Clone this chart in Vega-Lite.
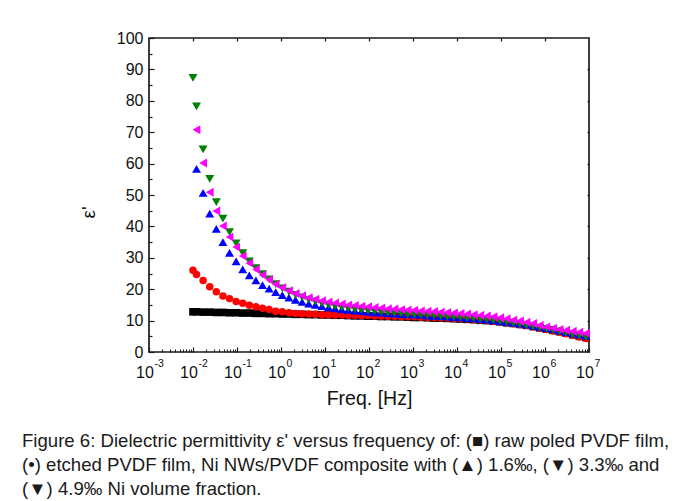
{
  "$schema": "https://vega.github.io/schema/vega-lite/v6.json",
  "width": 440,
  "height": 314,
  "autosize": {"type": "none"},
  "padding": {"left": 149, "top": 38, "right": 94, "bottom": 149},
  "background": "white",
  "title": {
    "text": [
      "Figure 6: Dielectric permittivity ε' versus frequency of: (■) raw poled PVDF film,",
      "(•) etched PVDF film, Ni NWs/PVDF composite with (▲) 1.6‰, (▼) 3.3‰ and",
      "(▼) 4.9‰ Ni volume fraction."
    ],
    "orient": "bottom",
    "anchor": "start",
    "frame": "group",
    "dx": -127,
    "offset": 24,
    "font": "Liberation Sans",
    "fontSize": 18.6,
    "fontWeight": "normal",
    "color": "#1a1a1a",
    "lineHeight": 24
  },
  "data": {
    "values": [
      {"f": 0.01, "raw": 12.8, "etched": 26.0, "c33": 87.3},
      {"f": 0.01202, "raw": 12.8, "etched": 24.7, "c16": 58.3, "c33": 78.2, "c49": 70.8},
      {"f": 0.01698, "raw": 12.7, "etched": 22.8, "c16": 50.7, "c33": 64.5, "c49": 60.2},
      {"f": 0.02399, "raw": 12.7, "etched": 20.8, "c16": 44.1, "c33": 55.1, "c49": 50.9},
      {"f": 0.03388, "raw": 12.6, "etched": 19.2, "c16": 39.2, "c33": 47.7, "c49": 44.9},
      {"f": 0.04786, "raw": 12.6, "etched": 17.8, "c16": 35.0, "c33": 42.5, "c49": 40.1},
      {"f": 0.06761, "raw": 12.5, "etched": 17.0, "c16": 31.6, "c33": 38.2, "c49": 36.6},
      {"f": 0.0955, "raw": 12.5, "etched": 16.1, "c16": 28.9, "c33": 34.6, "c49": 33.4},
      {"f": 0.1349, "raw": 12.4, "etched": 15.5, "c16": 26.3, "c33": 31.5, "c49": 30.6},
      {"f": 0.1905, "raw": 12.4, "etched": 14.9, "c16": 24.4, "c33": 28.9, "c49": 28.3},
      {"f": 0.2692, "raw": 12.3, "etched": 14.4, "c16": 22.8, "c33": 26.7, "c49": 26.3},
      {"f": 0.3802, "raw": 12.3, "etched": 13.9, "c16": 21.3, "c33": 24.8, "c49": 24.5},
      {"f": 0.537, "raw": 12.2, "etched": 13.5, "c16": 20.2, "c33": 23.1, "c49": 23.0},
      {"f": 0.7586, "raw": 12.2, "etched": 13.0, "c16": 19.1, "c33": 21.6, "c49": 21.6},
      {"f": 1.072, "raw": 12.1, "etched": 12.8, "c16": 18.1, "c33": 20.3, "c49": 20.5},
      {"f": 1.514, "raw": 12.1, "etched": 12.5, "c16": 17.3, "c33": 19.2, "c49": 19.5},
      {"f": 2.138, "raw": 12.0, "etched": 12.3, "c16": 16.6, "c33": 18.2, "c49": 18.6},
      {"f": 3.02, "raw": 12.0, "etched": 12.2, "c16": 16.0, "c33": 17.4, "c49": 17.9},
      {"f": 4.266, "raw": 11.9, "etched": 12.1, "c16": 15.4, "c33": 16.7, "c49": 17.3},
      {"f": 6.026, "raw": 11.9, "etched": 12.0, "c16": 15.0, "c33": 16.1, "c49": 16.8},
      {"f": 8.511, "raw": 11.8, "etched": 11.9, "c16": 14.6, "c33": 15.5, "c49": 16.3},
      {"f": 12.02, "raw": 11.8, "etched": 11.9, "c16": 14.2, "c33": 15.0, "c49": 15.9},
      {"f": 16.98, "raw": 11.7, "etched": 11.8, "c16": 13.9, "c33": 14.6, "c49": 15.6},
      {"f": 23.99, "raw": 11.7, "etched": 11.8, "c16": 13.6, "c33": 14.2, "c49": 15.3},
      {"f": 33.88, "raw": 11.6, "etched": 11.7, "c16": 13.4, "c33": 13.9, "c49": 15.0},
      {"f": 47.86, "raw": 11.5, "etched": 11.7, "c16": 13.2, "c33": 13.6, "c49": 14.8},
      {"f": 67.61, "raw": 11.5, "etched": 11.6, "c16": 13.0, "c33": 13.3, "c49": 14.6},
      {"f": 95.5, "raw": 11.4, "etched": 11.6, "c16": 12.8, "c33": 13.1, "c49": 14.4},
      {"f": 134.9, "raw": 11.4, "etched": 11.5, "c16": 12.6, "c33": 12.9, "c49": 14.2},
      {"f": 190.5, "raw": 11.3, "etched": 11.5, "c16": 12.5, "c33": 12.7, "c49": 14.0},
      {"f": 269.2, "raw": 11.3, "etched": 11.4, "c16": 12.3, "c33": 12.5, "c49": 13.8},
      {"f": 380.2, "raw": 11.2, "etched": 11.4, "c16": 12.2, "c33": 12.3, "c49": 13.7},
      {"f": 537, "raw": 11.2, "etched": 11.3, "c16": 12.1, "c33": 12.2, "c49": 13.5},
      {"f": 758.6, "raw": 11.1, "etched": 11.2, "c16": 12.0, "c33": 12.0, "c49": 13.4},
      {"f": 1072, "raw": 11.0, "etched": 11.2, "c16": 11.9, "c33": 11.9, "c49": 13.3},
      {"f": 1514, "raw": 11.0, "etched": 11.1, "c16": 11.8, "c33": 11.8, "c49": 13.1},
      {"f": 2138, "raw": 10.9, "etched": 11.0, "c16": 11.6, "c33": 11.7, "c49": 13.0},
      {"f": 3020, "raw": 10.8, "etched": 11.0, "c16": 11.5, "c33": 11.6, "c49": 12.9},
      {"f": 4266, "raw": 10.8, "etched": 10.9, "c16": 11.4, "c33": 11.4, "c49": 12.7},
      {"f": 6026, "raw": 10.7, "etched": 10.8, "c16": 11.3, "c33": 11.3, "c49": 12.6},
      {"f": 8511, "raw": 10.6, "etched": 10.7, "c16": 11.1, "c33": 11.2, "c49": 12.4},
      {"f": 12020, "raw": 10.5, "etched": 10.6, "c16": 11.0, "c33": 11.0, "c49": 12.3},
      {"f": 16980, "raw": 10.4, "etched": 10.5, "c16": 10.8, "c33": 10.9, "c49": 12.1},
      {"f": 23990, "raw": 10.3, "etched": 10.3, "c16": 10.7, "c33": 10.7, "c49": 11.9},
      {"f": 33880, "raw": 10.1, "etched": 10.2, "c16": 10.5, "c33": 10.5, "c49": 11.7},
      {"f": 47860, "raw": 10.0, "etched": 10.0, "c16": 10.3, "c33": 10.3, "c49": 11.5},
      {"f": 67610, "raw": 9.8, "etched": 9.8, "c16": 10.1, "c33": 10.1, "c49": 11.2},
      {"f": 95500, "raw": 9.6, "etched": 9.6, "c16": 9.8, "c33": 9.8, "c49": 10.9},
      {"f": 134900, "raw": 9.3, "etched": 9.3, "c16": 9.6, "c33": 9.5, "c49": 10.6},
      {"f": 190500, "raw": 9.1, "etched": 9.0, "c16": 9.3, "c33": 9.2, "c49": 10.2},
      {"f": 269200, "raw": 8.8, "etched": 8.7, "c16": 9.0, "c33": 8.9, "c49": 9.9},
      {"f": 380200, "raw": 8.5, "etched": 8.4, "c16": 8.7, "c33": 8.5, "c49": 9.5},
      {"f": 537000, "raw": 8.1, "etched": 8.0, "c16": 8.3, "c33": 8.2, "c49": 9.1},
      {"f": 758600, "raw": 7.7, "etched": 7.6, "c16": 8.0, "c33": 7.8, "c49": 8.5},
      {"f": 1072000, "raw": 7.3, "etched": 7.2, "c16": 7.6, "c33": 7.4, "c49": 8.0},
      {"f": 1514000, "raw": 6.9, "etched": 6.7, "c16": 7.2, "c33": 7.0, "c49": 7.6},
      {"f": 2138000, "raw": 6.5, "etched": 6.3, "c16": 6.8, "c33": 6.5, "c49": 7.2},
      {"f": 3020000, "raw": 6.0, "etched": 5.8, "c16": 6.3, "c33": 6.1, "c49": 6.9},
      {"f": 4266000, "raw": 5.5, "etched": 5.3, "c16": 5.9, "c33": 5.6, "c49": 6.6},
      {"f": 6026000, "raw": 5.0, "etched": 4.8, "c16": 5.5, "c33": 5.2, "c49": 6.3},
      {"f": 8511000, "raw": 4.6, "etched": 4.3, "c16": 5.1, "c33": 4.8, "c49": 6.0}
    ]
  },
  "layer": [
    {
      "mark": {"type": "point", "shape": "square", "filled": true, "color": "#000000", "opacity": 1, "size": 58},
      "encoding": {
        "x": {"field": "f", "type": "quantitative", "scale": {"type": "log", "domain": [0.001, 10000000], "nice": false},
          "axis": {"orient": "bottom", "values": [0.001, 0.01, 0.1, 1, 10, 100, 1000, 10000, 100000, 1000000, 10000000],
            "labelExpr": "'10'", "ticks": false, "labelPadding": 12, "labelOffset": -4.5, "labelFontSize": 16,
            "title": "Freq. [Hz]", "titleFontSize": 19.5, "titlePadding": 9}},
        "y": {"field": "raw", "type": "quantitative", "scale": {"domain": [0, 100], "nice": false},
          "axis": {"orient": "left", "values": [0, 10, 20, 30, 40, 50, 60, 70, 80, 90, 100], "ticks": false,
            "labelPadding": 6, "labelFontSize": 16, "title": "ε'", "titleFontSize": 19, "titlePadding": 18, "titleY": 174}}
      }
    },
    {
      "mark": {"type": "point", "shape": "circle", "filled": true, "color": "#ff0000", "opacity": 1, "size": 56},
      "encoding": {
        "x": {"field": "f", "type": "quantitative", "scale": {"type": "log", "domain": [0.001, 10000000], "nice": false}, "axis": null},
        "y": {"field": "etched", "type": "quantitative", "scale": {"domain": [0, 100], "nice": false}, "axis": null}
      }
    },
    {
      "mark": {"type": "point", "shape": "triangle-up", "filled": true, "color": "#0000ff", "opacity": 1, "size": 80},
      "encoding": {
        "x": {"field": "f", "type": "quantitative", "scale": {"type": "log", "domain": [0.001, 10000000], "nice": false}, "axis": null},
        "y": {"field": "c16", "type": "quantitative", "scale": {"domain": [0, 100], "nice": false}, "axis": null}
      }
    },
    {
      "mark": {"type": "point", "shape": "triangle-down", "filled": true, "color": "#008000", "opacity": 1, "size": 80},
      "encoding": {
        "x": {"field": "f", "type": "quantitative", "scale": {"type": "log", "domain": [0.001, 10000000], "nice": false}, "axis": null},
        "y": {"field": "c33", "type": "quantitative", "scale": {"domain": [0, 100], "nice": false}, "axis": null}
      }
    },
    {
      "mark": {"type": "point", "shape": "triangle-left", "filled": true, "color": "#ff00ff", "opacity": 1, "size": 80},
      "encoding": {
        "x": {"field": "f", "type": "quantitative", "scale": {"type": "log", "domain": [0.001, 10000000], "nice": false}, "axis": null},
        "y": {"field": "c49", "type": "quantitative", "scale": {"domain": [0, 100], "nice": false}, "axis": null}
      }
    },
    {
      "mark": {"type": "point", "opacity": 0},
      "encoding": {
        "x": {"field": "f", "type": "quantitative", "scale": {"type": "log", "domain": [0.001, 10000000], "nice": false},
          "axis": {"orient": "bottom", "values": [0.001, 0.01, 0.1, 1, 10, 100, 1000, 10000, 100000, 1000000, 10000000],
            "labelExpr": "['-3','-2','-1','0','1','2','3','4','5','6','7'][round(log(datum.value)/LN10)+3]",
            "ticks": false, "labelAlign": "left", "labelOffset": 5, "labelPadding": 6, "labelFontSize": 10.5, "title": null}},
        "y": {"field": "raw", "type": "quantitative", "scale": {"domain": [0, 100], "nice": false},
          "axis": {"orient": "left", "values": [0, 10, 20, 30, 40, 50, 60, 70, 80, 90, 100], "labels": false, "ticks": true, "tickSize": -5, "tickWidth": 1.2, "title": null}}
      }
    },
    {
      "mark": {"type": "point", "opacity": 0},
      "encoding": {
        "x": {"field": "f", "type": "quantitative", "scale": {"type": "log", "domain": [0.001, 10000000], "nice": false},
          "axis": {"orient": "bottom", "values": [0.001, 0.01, 0.1, 1, 10, 100, 1000, 10000, 100000, 1000000, 10000000],
            "labels": false, "ticks": true, "tickSize": -5, "tickWidth": 1.2, "title": null}},
        "y": {"field": "raw", "type": "quantitative", "scale": {"domain": [0, 100], "nice": false},
          "axis": {"orient": "left", "values": [5, 15, 25, 35, 45, 55, 65, 75, 85, 95], "labels": false, "ticks": true, "tickSize": -3, "tickWidth": 1.2, "title": null}}
      }
    },
    {
      "mark": {"type": "point", "opacity": 0},
      "encoding": {
        "x": {"field": "f", "type": "quantitative", "scale": {"type": "log", "domain": [0.001, 10000000], "nice": false},
          "axis": {"orient": "bottom", "tickCount": 100, "labels": false, "ticks": true, "tickSize": -3, "tickWidth": 1, "title": null}},
        "y": {"field": "raw", "type": "quantitative", "scale": {"domain": [0, 100], "nice": false},
          "axis": {"orient": "right", "values": [10, 20, 30, 40, 50, 60, 70, 80, 90], "labels": false, "ticks": true, "tickSize": -2, "tickWidth": 1.2, "title": null}}
      }
    },
    {
      "mark": {"type": "point", "opacity": 0},
      "encoding": {
        "x": {"field": "f", "type": "quantitative", "scale": {"type": "log", "domain": [0.001, 10000000], "nice": false},
          "axis": {"orient": "top", "values": [0.01, 0.1, 1, 10, 100, 1000, 10000, 100000, 1000000], "labels": false, "ticks": true, "tickSize": -3, "tickWidth": 1.2, "title": null}},
        "y": {"field": "raw", "type": "quantitative", "scale": {"domain": [0, 100], "nice": false}, "axis": null}
      }
    }
  ],
  "resolve": {"axis": {"x": "independent", "y": "independent"}},
  "config": {
    "view": {"stroke": "#1a1a1a", "strokeWidth": 1.7},
    "axis": {
      "labelFont": "Liberation Sans", "titleFont": "Liberation Sans",
      "labelColor": "#111111", "titleColor": "#111111", "tickColor": "#1a1a1a",
      "grid": false, "domain": false, "labelFlush": false, "labelOverlap": false,
      "titleFontWeight": "normal"
    }
  }
}
